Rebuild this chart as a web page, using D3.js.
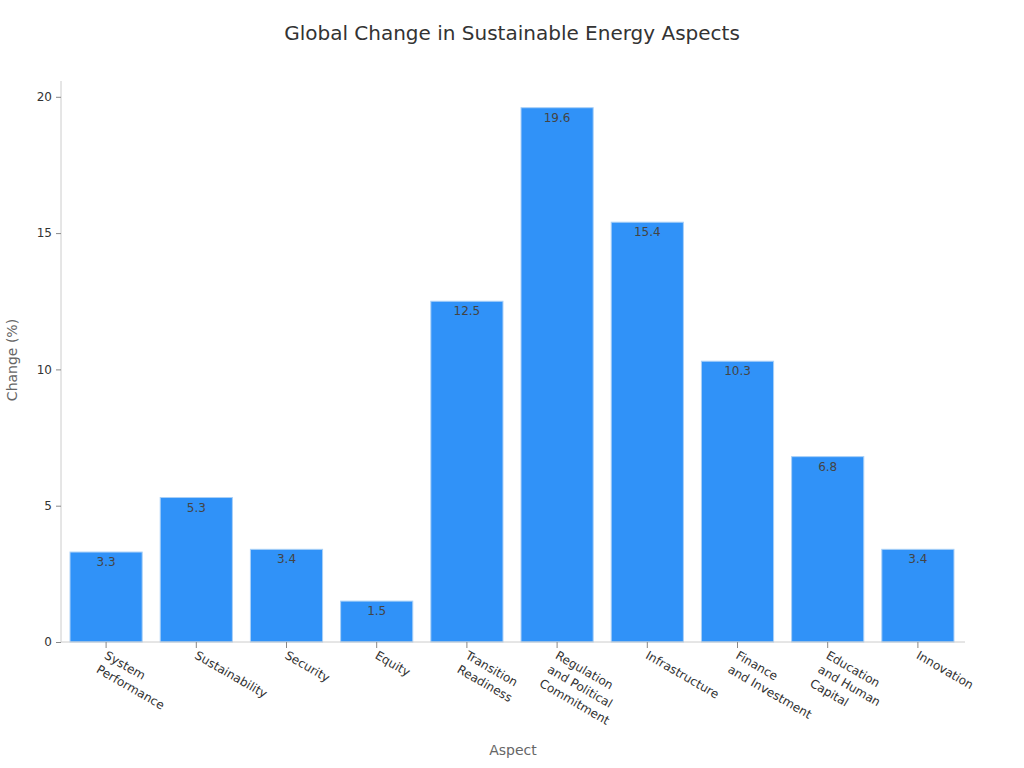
<!DOCTYPE html>
<html><head><meta charset="utf-8">
<script src="https://cdn.jsdelivr.net/npm/d3@7"></script>
<style>body{margin:0;background:#fff;} text{font-family:"DejaVu Sans",sans-serif;}</style>
</head><body><svg id="c" width="1024" height="768"></svg>
<script>
const categories = ["System\nPerformance","Sustainability","Security","Equity","Transition\nReadiness","Regulation\nand Political\nCommitment","Infrastructure","Finance\nand Investment","Education\nand Human\nCapital","Innovation"];
const values = [3.3,5.3,3.4,1.5,12.5,19.6,15.4,10.3,6.8,3.4];
const yTicks = [0,5,10,15,20];

const svg = d3.select("#c");
const m = {l:61, r:963, t:81, b:642};
const x = d3.scaleBand().domain(categories).range([m.l, m.r]).paddingInner(0.2).paddingOuter(0.1);
const y = d3.scaleLinear().domain([0, d3.max(values)*1.05]).range([m.b, m.t]);

svg.append("text").attr("x",512).attr("y",40).attr("text-anchor","middle")
  .attr("font-size",20).attr("fill","#333").text("Global Change in Sustainable Energy Aspects");

// bars
svg.selectAll("rect.bar").data(values).join("rect").attr("class","bar")
  .attr("x",(d,i)=>x(categories[i])).attr("width",x.bandwidth())
  .attr("y",d=>y(d)).attr("height",d=>y(0)-y(d))
  .attr("fill","#3092f8").attr("stroke","#a9d0f7").attr("stroke-width",1);

svg.selectAll("text.lbl").data(values).join("text").attr("class","lbl")
  .attr("x",(d,i)=>x(categories[i])+x.bandwidth()/2).attr("y",d=>y(d)+14)
  .attr("text-anchor","middle").attr("font-size",12).attr("fill","#444").text(d=>d.toFixed(1));

// y axis
const ya = svg.append("g").attr("transform",`translate(${m.l},0)`)
  .call(d3.axisLeft(y).tickValues(yTicks).tickSize(5).tickPadding(4));
ya.select(".domain").attr("stroke","#ccc").attr("d",`M0,${m.t}V${m.b}`);
ya.selectAll(".tick line").attr("stroke","#888");
ya.selectAll(".tick text").attr("font-size",12).attr("fill","#333").attr("font-family","DejaVu Sans");

// x axis
const xa = svg.append("g").attr("transform",`translate(0,${m.b})`)
  .call(d3.axisBottom(x).tickSize(6).tickFormat(""));
xa.select(".domain").attr("stroke","#ccc").attr("d",`M${m.l},0H${m.r+2}`);
xa.selectAll(".tick line").attr("stroke","#888");
xa.selectAll(".tick").each(function(d){
  const g = d3.select(this).append("g").attr("transform","translate(2,8) rotate(30)");
  const t = g.append("text").attr("text-anchor","start").attr("font-size",12).attr("fill","#333");
  d.split("\n").forEach((s,i)=>{
    t.append("tspan").attr("x",0).attr("dy", i===0 ? "0.75em" : "1.35em").text(s);
  });
});

svg.append("text").attr("transform","translate(17,360) rotate(-90)").attr("text-anchor","middle")
  .attr("font-size",14).attr("fill","#666").text("Change (%)");
svg.append("text").attr("x",513).attr("y",755).attr("text-anchor","middle")
  .attr("font-size",14).attr("fill","#666").text("Aspect");
</script></body></html>
